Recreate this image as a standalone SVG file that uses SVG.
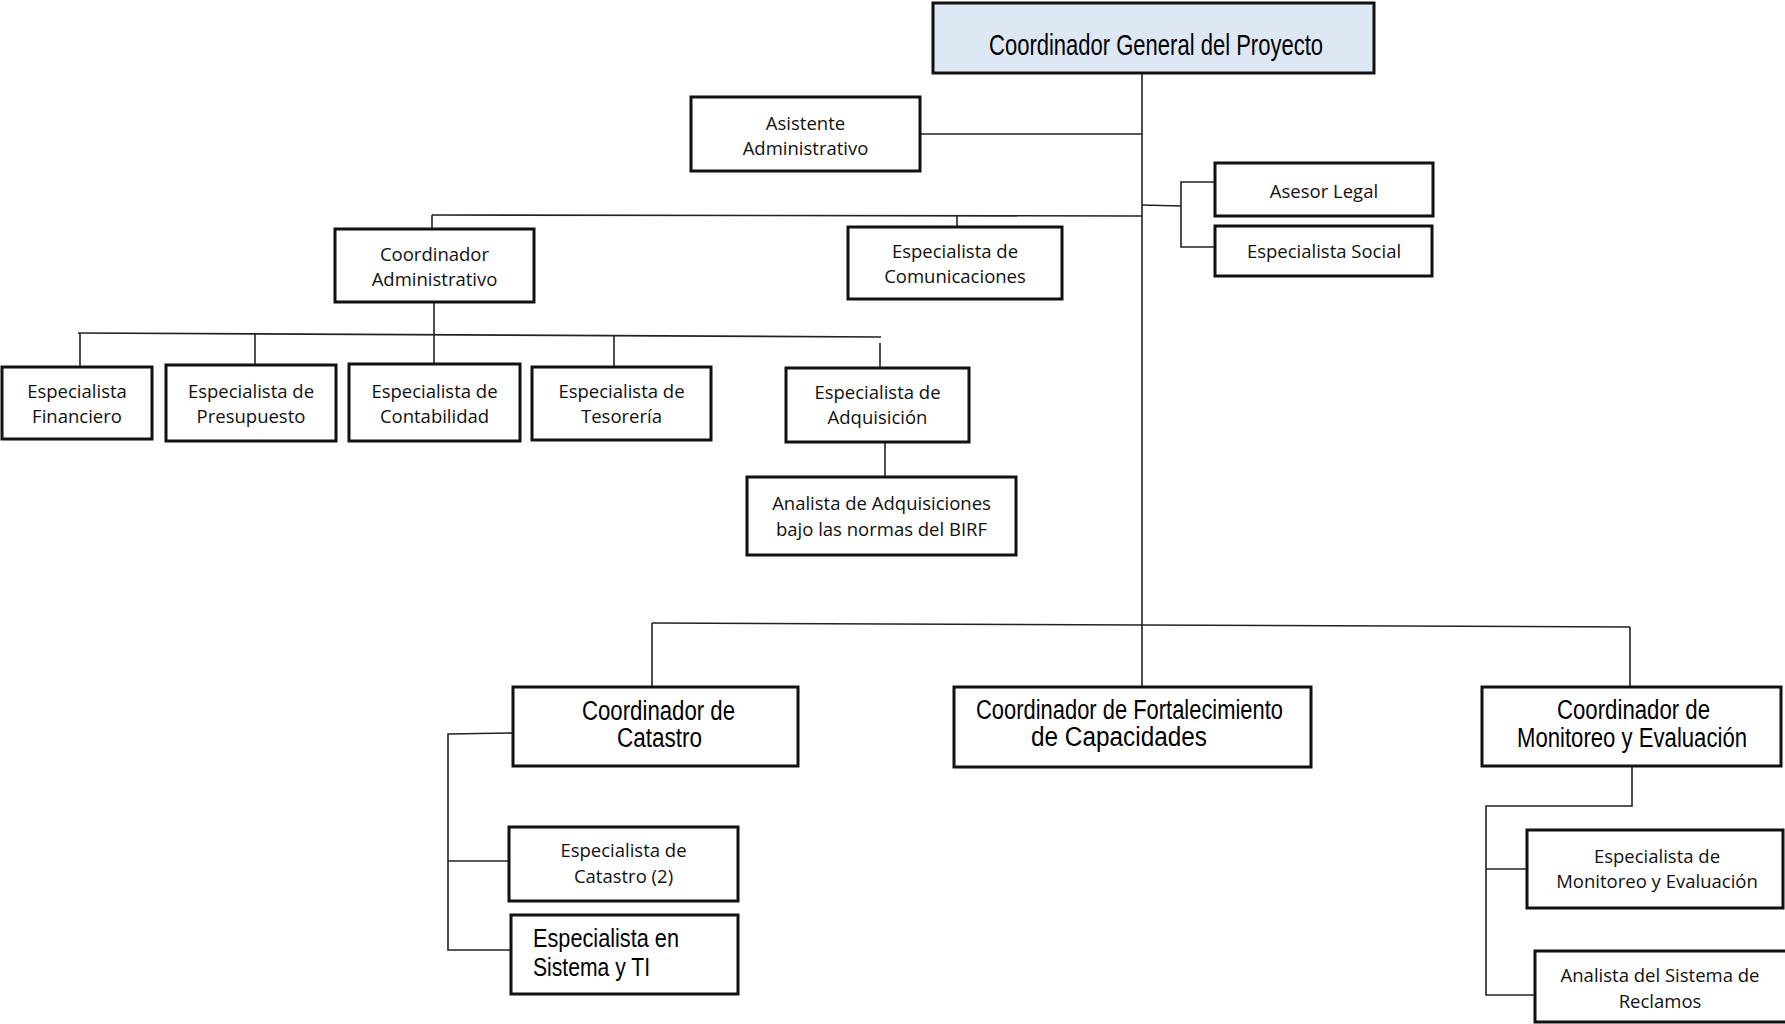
<svg xmlns="http://www.w3.org/2000/svg" width="1785" height="1024" viewBox="0 0 1785 1024">
  <style>
    .box { fill: #ffffff; stroke: #111111; stroke-width: 3; }
    .head { fill: #dde8f4; stroke: #111111; stroke-width: 3; }
    .lbl { font-family: "Open Sans", "Noto Sans", sans-serif; font-size: 18.5px; fill: #111111; text-anchor: middle; }
    .cnd { font-family: "Liberation Sans", "Arial", sans-serif; fill: #000000; }
    .mid { text-anchor: middle; }
    .links path { fill: none; stroke: #222222; stroke-width: 1.6; }
  </style>

  <rect width="1785" height="1024" fill="#ffffff"/>

  <!-- connectors -->
  <g class="links" id="connectors">
    <path d="M1142 68 V688"/>
    <path d="M920 134 H1142"/>
    <path d="M432 215 L1142 216"/>
    <path d="M432 215 V229"/>
    <path d="M957 216 V227"/>
    <path d="M1142 205 L1181 206"/>
    <path d="M1215 182 H1181 V247 H1215"/>
    <path d="M434 302 V364"/>
    <path d="M78 333 L881 337"/>
    <path d="M80 333 V367"/>
    <path d="M255 334 V365"/>
    <path d="M614 335 V367"/>
    <path d="M880 343 V368"/>
    <path d="M885 442 V477"/>
    <path d="M652 623 L1630 627"/>
    <path d="M652 623 V687"/>
    <path d="M1630 627 V687"/>
    <path d="M513 733 L448 734 V950 H511"/>
    <path d="M448 861 H509"/>
    <path d="M1632 766 V806 H1486 V995 H1535"/>
    <path d="M1486 869 H1527"/>
  </g>

  <!-- top coordinator -->
  <g id="coordinador-general">
    <rect class="head" x="933" y="3" width="441" height="70"/>
    <text class="cnd mid" x="1156" y="55" font-size="30" textLength="334" lengthAdjust="spacingAndGlyphs">Coordinador General del Proyecto</text>
  </g>

  <g id="asistente-administrativo">
    <rect class="box" x="691" y="97" width="229" height="74"/>
    <text class="lbl" x="805.5" y="130">Asistente</text>
    <text class="lbl" x="805.5" y="155">Administrativo</text>
  </g>

  <g id="asesor-legal">
    <rect class="box" x="1215" y="163" width="218" height="53"/>
    <text class="lbl" x="1324" y="198">Asesor Legal</text>
  </g>

  <g id="especialista-social">
    <rect class="box" x="1215" y="226" width="217" height="50"/>
    <text class="lbl" x="1324" y="258">Especialista Social</text>
  </g>

  <g id="coordinador-administrativo">
    <rect class="box" x="335" y="229" width="199" height="73"/>
    <text class="lbl" x="434.5" y="261">Coordinador</text>
    <text class="lbl" x="434.5" y="286">Administrativo</text>
  </g>

  <g id="especialista-comunicaciones">
    <rect class="box" x="848" y="227" width="214" height="72"/>
    <text class="lbl" x="955" y="258">Especialista de</text>
    <text class="lbl" x="955" y="283">Comunicaciones</text>
  </g>

  <g id="especialista-financiero">
    <rect class="box" x="2" y="367" width="150" height="72"/>
    <text class="lbl" x="77" y="398">Especialista</text>
    <text class="lbl" x="77" y="423">Financiero</text>
  </g>

  <g id="especialista-presupuesto">
    <rect class="box" x="166" y="365" width="170" height="76"/>
    <text class="lbl" x="251" y="398">Especialista de</text>
    <text class="lbl" x="251" y="423">Presupuesto</text>
  </g>

  <g id="especialista-contabilidad">
    <rect class="box" x="349" y="364" width="171" height="77"/>
    <text class="lbl" x="434.5" y="398">Especialista de</text>
    <text class="lbl" x="434.5" y="423">Contabilidad</text>
  </g>

  <g id="especialista-tesoreria">
    <rect class="box" x="532" y="367" width="179" height="73"/>
    <text class="lbl" x="621.5" y="398">Especialista de</text>
    <text class="lbl" x="621.5" y="423">Tesorería</text>
  </g>

  <g id="especialista-adquisicion">
    <rect class="box" x="786" y="368" width="183" height="74"/>
    <text class="lbl" x="877.5" y="399">Especialista de</text>
    <text class="lbl" x="877.5" y="424">Adquisición</text>
  </g>

  <g id="analista-adquisiciones">
    <rect class="box" x="747" y="477" width="269" height="78"/>
    <text class="lbl" x="881.5" y="510">Analista de Adquisiciones</text>
    <text class="lbl" x="881.5" y="536">bajo las normas del BIRF</text>
  </g>

  <g id="coordinador-catastro">
    <rect class="box" x="513" y="687" width="285" height="79"/>
    <text class="cnd mid" x="658.5" y="720" font-size="27" textLength="153" lengthAdjust="spacingAndGlyphs">Coordinador de</text>
    <text class="cnd mid" x="659.5" y="747" font-size="27" textLength="85" lengthAdjust="spacingAndGlyphs">Catastro</text>
  </g>

  <g id="coordinador-fortalecimiento">
    <rect class="box" x="954" y="687" width="357" height="80"/>
    <text class="cnd mid" x="1129.5" y="719" font-size="27" textLength="307" lengthAdjust="spacingAndGlyphs">Coordinador de Fortalecimiento</text>
    <text class="cnd mid" x="1119" y="746" font-size="27" textLength="176" lengthAdjust="spacingAndGlyphs">de Capacidades</text>
  </g>

  <g id="coordinador-monitoreo">
    <rect class="box" x="1482" y="687" width="299" height="79"/>
    <text class="cnd mid" x="1633.5" y="719" font-size="27" textLength="153" lengthAdjust="spacingAndGlyphs">Coordinador de</text>
    <text class="cnd mid" x="1632" y="747" font-size="27" textLength="230" lengthAdjust="spacingAndGlyphs">Monitoreo y Evaluación</text>
  </g>

  <g id="especialista-catastro">
    <rect class="box" x="509" y="827" width="229" height="74"/>
    <text class="lbl" x="623.5" y="857">Especialista de</text>
    <text class="lbl" x="623.5" y="883">Catastro (2)</text>
  </g>

  <g id="especialista-sistema-ti">
    <rect class="box" x="511" y="915" width="227" height="79"/>
    <text class="cnd" x="533" y="947" font-size="25" textLength="146" lengthAdjust="spacingAndGlyphs">Especialista en</text>
    <text class="cnd" x="533" y="976" font-size="25" textLength="117" lengthAdjust="spacingAndGlyphs">Sistema y TI</text>
  </g>

  <g id="especialista-monitoreo">
    <rect class="box" x="1527" y="830" width="256" height="78"/>
    <text class="lbl" x="1657" y="863">Especialista de</text>
    <text class="lbl" x="1657" y="888">Monitoreo y Evaluación</text>
  </g>

  <g id="analista-reclamos">
    <rect class="box" x="1535" y="951" width="260" height="71"/>
    <text class="lbl" x="1660" y="982">Analista del Sistema de</text>
    <text class="lbl" x="1660" y="1008">Reclamos</text>
  </g>
</svg>
